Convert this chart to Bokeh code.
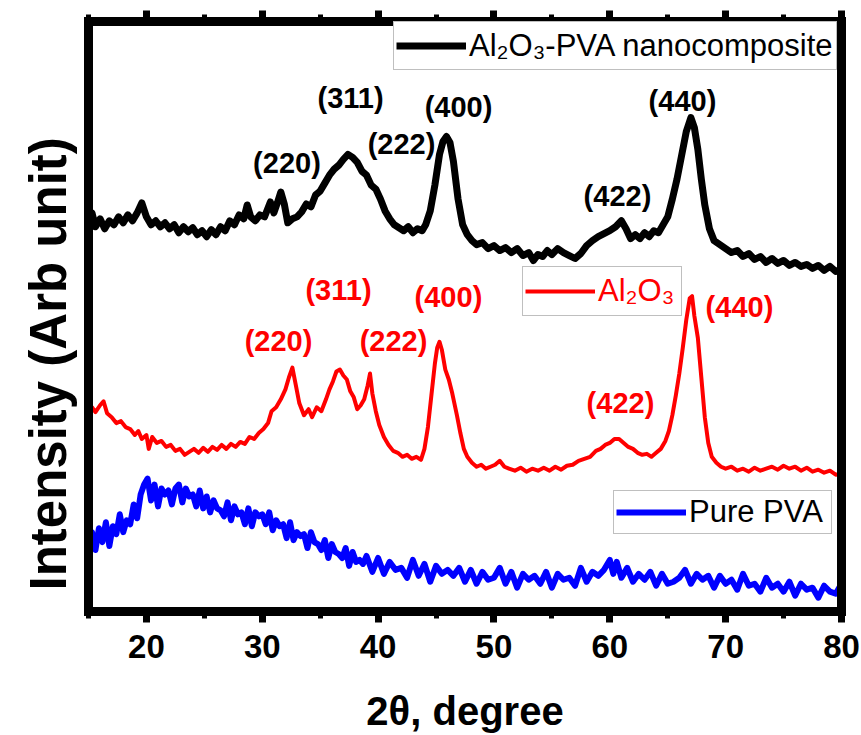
import math
from bokeh.plotting import figure
from bokeh.models import (Range1d, LinearAxis, SingleIntervalTicker, FixedTicker, Legend,
                          LegendItem, Title, ColumnDataSource, CustomLabelingPolicy)
from bokeh.core.properties import value
from bokeh.embed import file_html
from bokeh.resources import INLINE

# ---------------- data (2theta in degree, intensity in arb. unit, stacked) -------------
comp_x = [15.0, 15.3, 15.6, 16.0, 16.4, 16.8, 17.2, 17.6, 18.0, 18.4, 18.8, 19.2, 19.6, 20.0,
          20.4, 20.8, 21.2, 21.6, 22.0, 22.4, 22.8, 23.2, 23.6, 24.0, 24.4, 24.8, 25.2, 25.6,
          26.0, 26.4, 26.8, 27.2, 27.6, 28.0, 28.4, 28.7, 29.0, 29.4, 29.8, 30.2, 30.7, 31.0,
          31.3, 31.6, 31.9, 32.2, 32.6, 33.0, 33.4, 33.8, 34.2, 34.6, 35.0, 35.4, 35.8, 36.2,
          36.6, 37.0, 37.4, 37.8, 38.2, 38.6, 39.0, 39.4, 39.8, 40.2, 40.6, 41.0, 41.4, 41.8,
          42.2, 42.6, 43.0, 43.4, 43.8, 44.1, 44.5, 44.9, 45.3, 45.6, 45.9, 46.2, 46.5, 46.9,
          47.3, 47.7, 48.1, 48.5, 49.0, 49.5, 50.0, 50.5, 51.0, 51.5, 52.0, 52.5, 53.0, 53.4,
          53.8, 54.2, 54.6, 55.0, 55.5, 56.0, 56.5, 57.0, 57.5, 58.0, 58.5, 59.0, 59.5, 60.0,
          60.5, 61.0, 61.4, 61.8, 62.2, 62.6, 63.0, 63.4, 63.8, 64.2, 64.6, 65.0, 65.4, 65.8,
          66.2, 66.6, 67.0, 67.3, 67.6, 67.9, 68.2, 68.6, 69.0, 69.5, 70.0, 70.5, 71.0, 71.5,
          72.0, 72.5, 73.0, 73.5, 74.0, 74.5, 75.0, 75.5, 76.0, 76.5, 77.0, 77.5, 78.0, 78.5,
          79.0, 79.5, 80.0]
comp_y = [394, 402, 388, 396, 386, 394, 390, 398, 392, 400, 394, 402, 412, 398,
          390, 394, 388, 392, 386, 390, 382, 388, 383, 387, 380, 384, 378, 385,
          380, 388, 384, 394, 390, 400, 396, 410, 398, 394, 400, 398, 413, 402,
          412, 423, 411, 392, 396, 398, 403, 411, 408, 420, 424, 432, 440, 446,
          450, 456, 461, 458, 453, 444, 440, 430, 426, 416, 404, 396, 390, 387,
          384, 388, 382, 386, 384, 390, 404, 430, 461, 474, 479, 473, 454, 416,
          390, 380, 374, 370, 372, 366, 369, 364, 367, 362, 366, 359, 362, 354,
          360, 358, 364, 360, 366, 362, 359, 356, 361, 369, 374, 378, 381, 384,
          388, 394, 386, 376, 380, 376, 382, 378, 384, 382, 390, 398, 416, 436,
          460, 484, 498, 488, 466, 436, 410, 386, 374, 370, 366, 362, 364, 358,
          361, 355, 358, 352, 356, 351, 354, 349, 352, 348, 350, 346, 349, 344,
          348, 343, 345]

alo_x = [15.0, 15.3, 15.6, 16.0, 16.3, 16.6, 17.0, 17.4, 17.8, 18.2, 18.6, 19.0, 19.3, 19.6,
         20.0, 20.2, 20.5, 20.9, 21.3, 21.7, 22.1, 22.5, 22.9, 23.3, 23.7, 24.1, 24.5, 24.9,
         25.3, 25.7, 26.1, 26.5, 26.9, 27.3, 27.7, 28.1, 28.5, 28.9, 29.3, 29.7, 30.1, 30.5,
         30.8, 31.2, 31.6, 32.0, 32.3, 32.6, 32.9, 33.2, 33.6, 34.0, 34.3, 34.7, 35.1, 35.5,
         35.8, 36.1, 36.4, 36.7, 37.0, 37.3, 37.6, 37.9, 38.2, 38.5, 38.8, 39.1, 39.3, 39.5,
         39.8, 40.1, 40.5, 40.9, 41.3, 41.7, 42.1, 42.5, 42.9, 43.3, 43.7, 44.0, 44.3, 44.6,
         44.9, 45.1, 45.3, 45.5, 45.8, 46.1, 46.4, 46.8, 47.1, 47.4, 47.7, 48.1, 48.5, 48.9,
         49.3, 49.7, 50.1, 50.5, 50.9, 51.3, 51.8, 52.3, 52.8, 53.3, 53.8, 54.3, 54.8, 55.3,
         55.8, 56.3, 56.8, 57.3, 57.8, 58.3, 58.8, 59.2, 59.6, 60.0, 60.4, 60.8, 61.2, 61.6,
         62.0, 62.4, 62.8, 63.2, 63.6, 64.0, 64.4, 64.8, 65.1, 65.4, 65.7, 66.0, 66.3, 66.6,
         66.9, 67.1, 67.3, 67.6, 67.9, 68.2, 68.5, 68.8, 69.2, 69.6, 70.0, 70.5, 71.0, 71.5,
         72.0, 72.5, 73.0, 73.5, 74.0, 74.5, 75.0, 75.5, 76.0, 76.5, 77.0, 77.5, 78.0, 78.5,
         79.0, 79.5, 80.0]
alo_y = [198, 206, 201, 208, 212, 200, 196, 190, 192, 186, 184, 178, 182, 174,
         178, 164, 176, 170, 172, 166, 168, 162, 164, 158, 161, 164, 160, 165,
         161, 166, 163, 168, 164, 169, 166, 171, 169, 176, 174, 180, 184, 190,
         202, 206, 214, 224, 236, 246, 228, 210, 198, 204, 196, 206, 202, 214,
         224, 232, 242, 244, 238, 234, 222, 216, 204, 208, 214, 228, 240, 220,
         202, 188, 176, 168, 162, 160, 156, 158, 154, 156, 153, 164, 186, 218,
         250, 266, 272, 264, 244, 234, 220, 198, 180, 164, 156, 150, 146, 148,
         144, 146, 148, 152, 146, 144, 142, 145, 141, 144, 142, 145, 142, 146,
         143, 147, 148, 152, 154, 156, 162, 164, 168, 170, 174, 174, 170, 166,
         164, 160, 158, 159, 156, 160, 164, 172, 182, 198, 218, 240, 266, 294,
         316, 318, 298, 276, 236, 196, 170, 156, 150, 146, 144, 146, 142, 144,
         141, 145, 142, 144, 146, 143, 147, 144, 146, 142, 145, 141, 143, 140,
         142, 138, 139]

pva_x = [15.0, 15.3, 15.6, 15.9, 16.2, 16.5, 16.8, 17.1, 17.4, 17.7, 18.0, 18.3, 18.6, 18.9,
         19.2, 19.5, 19.8, 20.1, 20.4, 20.7, 21.0, 21.3, 21.6, 21.9, 22.2, 22.5, 22.8, 23.1,
         23.4, 23.7, 24.0, 24.3, 24.6, 24.9, 25.2, 25.5, 25.8, 26.1, 26.4, 26.7, 27.0, 27.3,
         27.6, 27.9, 28.2, 28.5, 28.8, 29.1, 29.4, 29.7, 30.0, 30.3, 30.6, 30.9, 31.2, 31.5,
         31.8, 32.1, 32.4, 32.7, 33.0, 33.3, 33.6, 33.9, 34.2, 34.5, 34.8, 35.1, 35.4, 35.7,
         36.0, 36.3, 36.6, 36.9, 37.2, 37.5, 37.8, 38.1, 38.4, 38.7, 39.0, 39.5, 40.0, 40.5,
         41.0, 41.5, 42.0, 42.5, 43.0, 43.5, 44.0, 44.5, 45.0, 45.5, 46.0, 46.5, 47.0, 47.5,
         48.0, 48.5, 49.0, 49.5, 50.0, 50.5, 51.0, 51.5, 52.0, 52.5, 53.0, 53.5, 54.0, 54.5,
         55.0, 55.5, 56.0, 56.5, 57.0, 57.5, 58.0, 58.5, 59.0, 59.5, 60.0, 60.3, 60.6, 61.0,
         61.5, 62.0, 62.5, 63.0, 63.5, 64.0, 64.5, 65.0, 65.5, 66.0, 66.5, 67.0, 67.5, 68.0,
         68.5, 69.0, 69.5, 70.0, 70.5, 71.0, 71.5, 72.0, 72.5, 73.0, 73.5, 74.0, 74.5, 75.0,
         75.5, 76.0, 76.5, 77.0, 77.5, 78.0, 78.5, 79.0, 79.5, 80.0]
pva_y = [71, 80, 62, 84, 70, 90, 66, 86, 78, 98, 80, 92, 88, 108,
         94, 118, 128, 134, 112, 128, 106, 124, 118, 122, 108, 124, 128, 110,
         124, 116, 118, 106, 122, 104, 116, 100, 112, 104, 102, 96, 110, 92,
         106, 98, 100, 88, 104, 86, 100, 96, 98, 88, 100, 82, 92, 86,
         88, 74, 90, 72, 80, 76, 78, 64, 80, 70, 68, 62, 72, 54,
         68, 60, 58, 54, 64, 46, 60, 50, 52, 48, 56, 40, 54, 38,
         50, 42, 44, 34, 52, 36, 48, 30, 46, 38, 42, 36, 44, 30,
         42, 28, 40, 32, 34, 44, 28, 40, 24, 38, 32, 36, 28, 40,
         24, 38, 32, 34, 26, 44, 30, 40, 36, 42, 52, 38, 50, 34,
         44, 30, 38, 32, 40, 26, 38, 28, 30, 34, 42, 28, 38, 32,
         36, 24, 36, 28, 32, 22, 38, 26, 28, 20, 34, 24, 28, 20,
         30, 16, 28, 22, 24, 14, 26, 20, 18, 28]

# peak (hkl) labels
hkl_text = ["(220)", "(311)", "(222)", "(400)", "(422)", "(440)"]
comp_lab_x = [32.13, 37.62, 42.02, 46.94, 60.66, 66.27]
comp_lab_y = [452, 518, 471, 509, 419, 515]
alo_lab_x = [31.4, 36.58, 41.33, 46.07, 60.92, 71.19]
alo_lab_y = [273, 324, 273, 317, 210, 307]

# ---------------- figure ----------------
p = figure(width=861, height=735, output_backend="svg", toolbar_location=None,
           x_range=Range1d(15, 80), y_range=Range1d(0, 595),
           min_border_left=88, min_border_right=20, min_border_top=21,
           min_border_bottom=119, y_axis_location=None)
p.grid.visible = False
p.outline_line_color = None
p.background_fill_color = "white"
p.border_fill_color = "white"

FRAME_W = 9

ax = p.xaxis[0]
ax.ticker = SingleIntervalTicker(interval=10, num_minor_ticks=2)
ax.axis_line_width = FRAME_W
ax.axis_line_color = "black"
ax.major_tick_in = 0
ax.major_tick_out = 11
ax.major_tick_line_width = 7
ax.major_tick_line_color = "black"
ax.minor_tick_in = 0
ax.minor_tick_out = 7
ax.minor_tick_line_width = 5
ax.minor_tick_line_color = "black"
ax.major_label_text_font = "Liberation Sans"
ax.major_label_text_font_style = "bold"
ax.major_label_text_font_size = "33px"
ax.major_label_text_color = "black"
ax.major_label_standoff = 12
ax.axis_label = "2\u03b8, degree"
ax.axis_label_text_font = "Liberation Sans"
ax.axis_label_text_font_style = "bold"
ax.axis_label_text_font_size = "40px"
ax.axis_label_text_color = "black"
ax.axis_label_standoff = 28

hide_all = CustomLabelingPolicy(code="for (const i of indices) { indices.unset(i) }\nreturn indices")
top = LinearAxis(ticker=SingleIntervalTicker(interval=10, num_minor_ticks=2),
                 axis_line_width=FRAME_W, axis_line_color="black",
                 major_tick_in=0, major_tick_out=11, major_tick_line_width=7,
                 major_tick_line_color="black",
                 minor_tick_in=0, minor_tick_out=7, minor_tick_line_width=5,
                 minor_tick_line_color="black",
                 major_label_text_font_size="1px", major_label_standoff=0,
                 major_label_policy=hide_all)
p.add_layout(top, "above")

# vertical frame sides (square caps close the corners)
for side in ("left", "right"):
    a = LinearAxis(ticker=FixedTicker(ticks=[]), axis_line_width=FRAME_W,
                   axis_line_color="black", axis_line_cap="square",
                   major_tick_out=0, major_tick_in=0,
                   minor_tick_out=0, minor_tick_in=0, major_label_standoff=0,
                   major_label_text_font_size="1px")
    p.add_layout(a, side)

p.add_layout(Title(text="Intensity (Arb unit)", align="left", offset=21,
                   text_font="Liberation Sans", text_font_style="bold",
                   text_font_size="51px", text_color="black", standoff=24), "left")

r_comp = p.line(comp_x, comp_y, line_color="black", line_width=7, line_join="round")
r_alo = p.line(alo_x, alo_y, line_color="#FF0000", line_width=4, line_join="round")
r_pva = p.line(pva_x, pva_y, line_color="#0000FF", line_width=6, line_join="round")

src_c = ColumnDataSource(dict(x=comp_lab_x, y=comp_lab_y, t=hkl_text))
src_a = ColumnDataSource(dict(x=alo_lab_x, y=alo_lab_y, t=hkl_text))
p.text(x="x", y="y", text="t", source=src_c, text_font=value("Liberation Sans"),
       text_font_style="bold", text_font_size="29px", text_color="black",
       text_align="center", text_baseline="middle")
p.text(x="x", y="y", text="t", source=src_a, text_font=value("Liberation Sans"),
       text_font_style="bold", text_font_size="29px", text_color="#FF0000",
       text_align="center", text_baseline="middle")


def make_legend(label, rend, loc, h, lw, color):
    return Legend(items=[LegendItem(label=label, renderers=[rend])], location=loc,
                  border_line_color="#7f7f7f", border_line_width=1,
                  background_fill_color="white", background_fill_alpha=1.0,
                  label_text_font="Liberation Sans", label_text_font_size="31px",
                  label_text_color=color, glyph_width=70, glyph_height=h,
                  label_height=h, label_width=lw, label_standoff=3, padding=2,
                  margin=0, spacing=0)


p.add_layout(make_legend("Al\u2082O\u2083-PVA nanocomposite", r_comp, (305, 541), 43, 365, "black"))
p.add_layout(make_legend("Al\u2082O\u2083", r_alo, (434, 295), 44, 81, "#FF0000"))
p.add_layout(make_legend("Pure PVA", r_pva, (525, 77), 38, 140, "black"))

open("out.html", "w").write(file_html(p, INLINE))
